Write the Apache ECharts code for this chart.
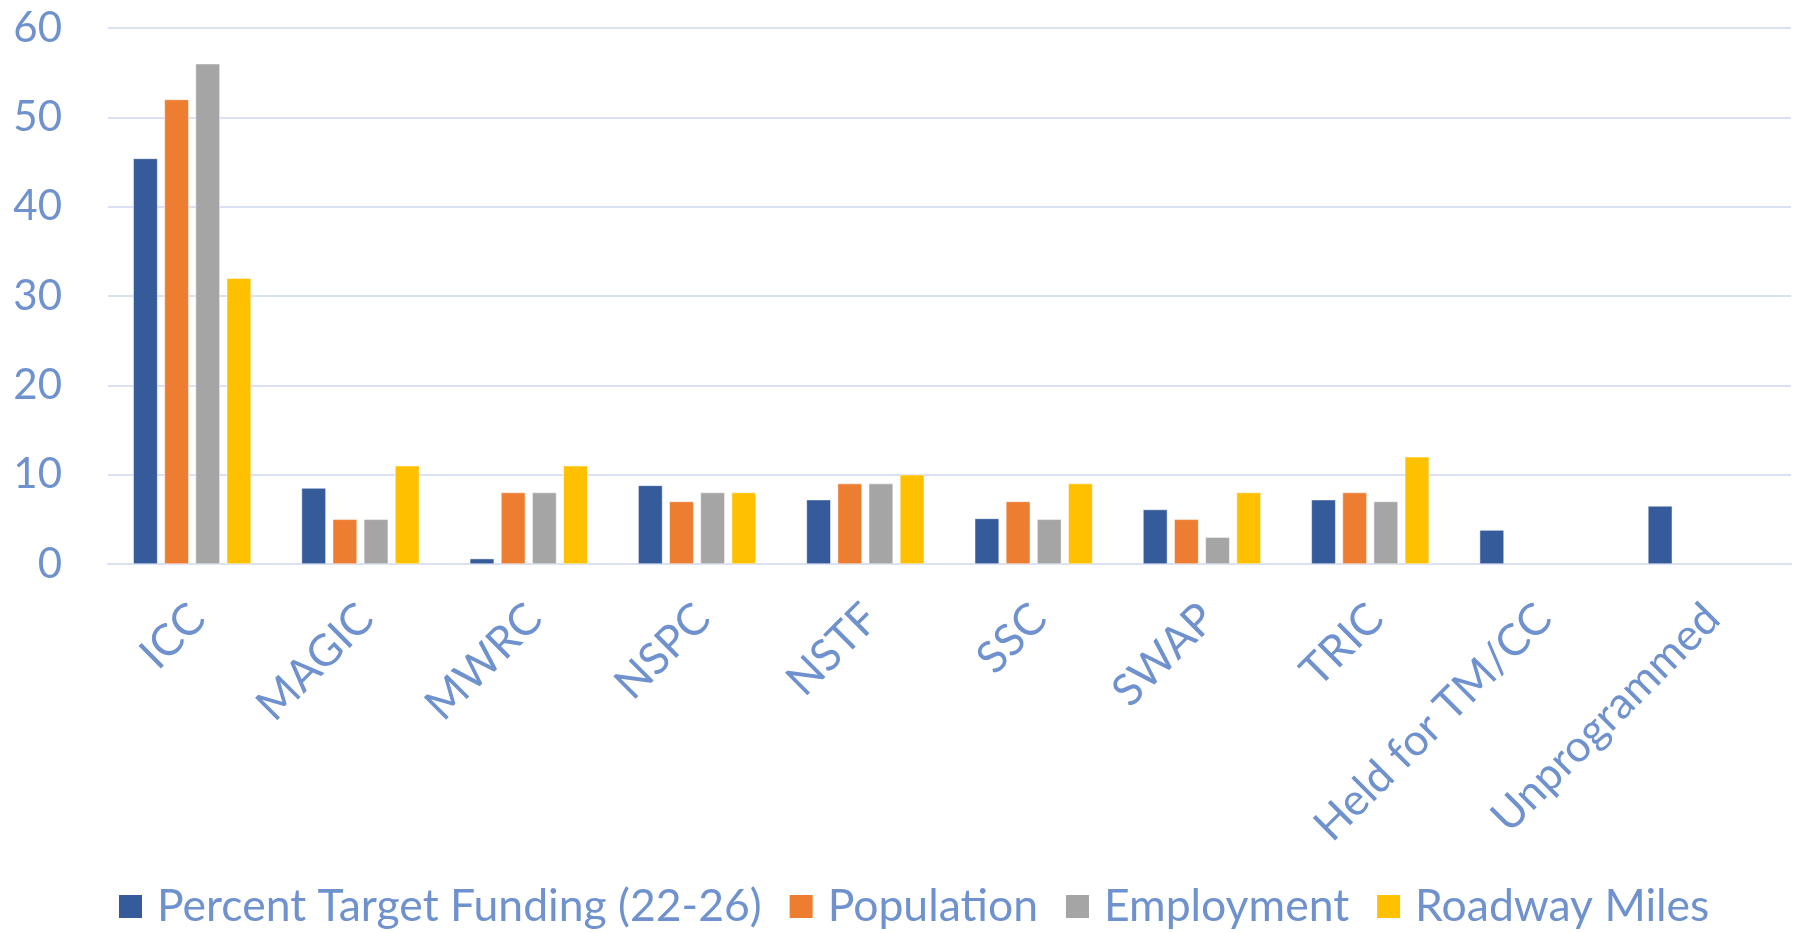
<!DOCTYPE html>
<html><head><meta charset="utf-8">
<script src="https://cdn.jsdelivr.net/npm/echarts@6/dist/echarts.min.js"></script>
<style>html,body{margin:0;padding:0;background:#fff}#c{width:1800px;height:933px}</style>
</head><body><div id="c"></div>
<script>
const categories = ['ICC','MAGIC','MWRC','NSPC','NSTF','SSC','SWAP','TRIC','Held for TM/CC','Unprogrammed'];
const seriesNames = ['Percent Target Funding (22-26)','Population','Employment','Roadway Miles'];
const fundingValues = [45.4, 8.5, 0.6, 8.8, 7.2, 5.1, 6.1, 7.2, 3.8, 6.5];
const populationValues = [52, 5, 8, 7, 9, 7, 5, 8, null, null];
const employmentValues = [56, 5, 8, 8, 9, 5, 3, 7, null, null];
const roadwayValues = [32, 11, 11, 8, 10, 9, 8, 12, null, null];
const yTicks = [0, 10, 20, 30, 40, 50, 60];

const colors = ['#355B9A','#ED7D31','#A5A5A5','#FFC000'];
const textColor = '#6F92CF';
const font = 'Lato';
const allValues = [fundingValues, populationValues, employmentValues, roadwayValues];

const chart = echarts.init(document.getElementById('c'));
chart.setOption({
  animation: false,
  textStyle: {fontFamily: font},
  grid: {left: 108, right: 9, top: 28, bottom: 369, containLabel: false},
  legend: {
    top: 884, left: 117, padding: 0,
    itemWidth: 25, itemHeight: 25, itemGap: 26,
    icon: 'rect',
    textStyle: {color: textColor, fontSize: 44.5, fontFamily: font, padding: [0,0,0,9]},
    data: seriesNames
  },
  xAxis: {
    type: 'category', data: categories,
    axisLine: {lineStyle: {color: '#D9E1F2', width: 2}},
    axisTick: {show: false},
    axisLabel: {color: textColor, fontSize: 44, fontFamily: font, rotate: 45, margin: 53, interval: 0, padding: [0,-8,0,0]}
  },
  yAxis: {
    type: 'value', min: yTicks[0], max: yTicks[yTicks.length-1], interval: 10,
    axisLine: {show: false}, axisTick: {show: false},
    splitLine: {lineStyle: {color: '#D9E1F2', width: 2}},
    axisLabel: {color: textColor, fontSize: 42, fontFamily: font, margin: 46}
  },
  series: seriesNames.map((n, i) => ({
    name: n, type: 'bar', data: allValues[i],
    barCategoryGap: '30%', barGap: '28%',
    itemStyle: {color: colors[i], borderColor: '#fff', borderWidth: 0.5}
  }))
});
</script></body></html>
